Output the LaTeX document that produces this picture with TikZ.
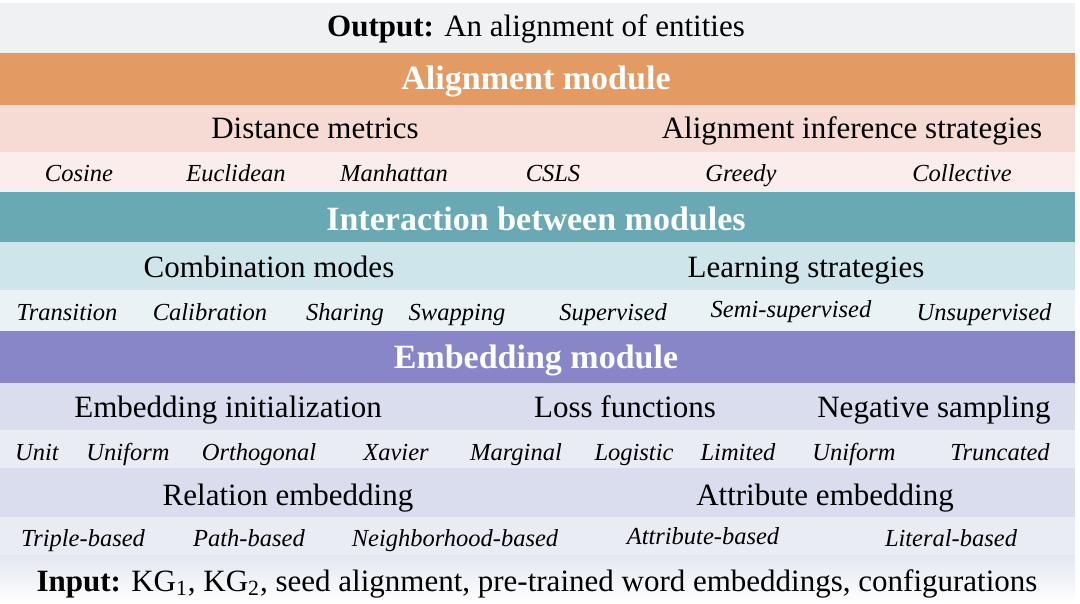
\documentclass[tikz,border=0pt]{standalone}
\usepackage{fontspec}
\setmainfont{Liberation Serif}
\definecolor{outgray}{HTML}{F0F1F3}
\definecolor{alorange}{HTML}{E49B63}
\definecolor{alpink}{HTML}{F5DBD3}
\definecolor{alpinklt}{HTML}{FAEDEB}
\definecolor{inteal}{HTML}{69A9B4}
\definecolor{inblue}{HTML}{CDE5EB}
\definecolor{inbluelt}{HTML}{E9F3F5}
\definecolor{empurple}{HTML}{8886C8}
\definecolor{emlav}{HTML}{DADDED}
\definecolor{emlavlt}{HTML}{EAECF4}
\definecolor{inlav}{HTML}{E4E7F1}

\begin{document}
\begin{tikzpicture}[x=0.5pt,y=-0.5pt,
  title/.style={anchor=base,inner sep=0pt,text=white,font=\fontsize{17}{20}\selectfont\bfseries},
  head/.style={anchor=base,inner sep=0pt,font=\fontsize{15.5}{18}\selectfont},
  item/.style={anchor=base,inner sep=0pt,font=\fontsize{12.25}{14}\selectfont\itshape}]
\useasboundingbox (0,0) rectangle (1080,604);

\fill[outgray] (0,3) rectangle (1075,53);
\fill[alorange] (0,53) rectangle (1075,105);
\fill[alpink] (0,105) rectangle (1075,152);
\fill[alpinklt] (0,152) rectangle (1075,192);
\fill[inteal] (0,192) rectangle (1075,242);
\fill[inblue] (0,242) rectangle (1075,290);
\fill[inbluelt] (0,290) rectangle (1075,331);
\fill[empurple] (0,331) rectangle (1075,383);
\fill[emlav] (0,383) rectangle (1075,430);
\fill[emlavlt] (0,430) rectangle (1075,468);
\fill[emlav] (0,468) rectangle (1075,517);
\fill[emlavlt] (0,517) rectangle (1075,555);
\shade[top color=inlav, bottom color=white] (0,555) rectangle (1075,604);

\node[head] (out) at (536,37) {\textbf{Output:} An alignment of entities};

\node[title] (am) at (536,90) {Alignment module};
\node[head] (dm) at (315,139) {Distance metrics};
\node[head] (ais) at (852,139) {Alignment inference strategies};
\node[item] (cos) at (79,182) {Cosine};
\node[item] (euc) at (236,182) {Euclidean};
\node[item] (man) at (394,182) {Manhattan};
\node[item] (csls) at (553,182) {CSLS};
\node[item] (gre) at (741,182) {Greedy};
\node[item] (col) at (962,182) {Collective};

\node[title] (ibm) at (536,230) {Interaction between modules};
\node[head] (cm) at (269,277) {Combination modes};
\node[head] (ls) at (806,277) {Learning strategies};
\node[item] (tra) at (67,320) {Transition};
\node[item] (cal) at (210,320) {Calibration};
\node[item] (sha) at (345,320) {Sharing};
\node[item] (swa) at (457,320) {Swapping};
\node[item] (sup) at (613,320) {Supervised};
\node[item] (semi) at (791,317) {Semi-supervised};
\node[item] (uns) at (984,320) {Unsupervised};

\node[title] (em) at (536,368) {Embedding module};
\node[head] (ei) at (228,417) {Embedding initialization};
\node[head] (lf) at (625,417) {Loss functions};
\node[head] (ns) at (934,417) {Negative sampling};
\node[item] (unit) at (37,460) {Unit};
\node[item] (uni) at (128,460) {Uniform};
\node[item] (ort) at (259,460) {Orthogonal};
\node[item] (xav) at (396,460) {Xavier};
\node[item] (mar) at (516,460) {Marginal};
\node[item] (log) at (634,460) {Logistic};
\node[item] (lim) at (738,460) {Limited};
\node[item] (uni2) at (854,460) {Uniform};
\node[item] (tru) at (1000,460) {Truncated};

\node[head] (re) at (288,505) {Relation embedding};
\node[head] (ae) at (825,505) {Attribute embedding};
\node[item] (tri) at (83,546) {Triple-based};
\node[item] (pat) at (249,546) {Path-based};
\node[item] (nei) at (455,546) {Neighborhood-based};
\node[item] (att) at (703,544) {Attribute-based};
\node[item] (lit) at (951,546) {Literal-based};

\node[head] (in) at (537,591) {\textbf{Input:} KG\textsubscript{1}, KG\textsubscript{2}, seed alignment, pre-trained word embeddings, configurations};

\end{tikzpicture}
\end{document}
